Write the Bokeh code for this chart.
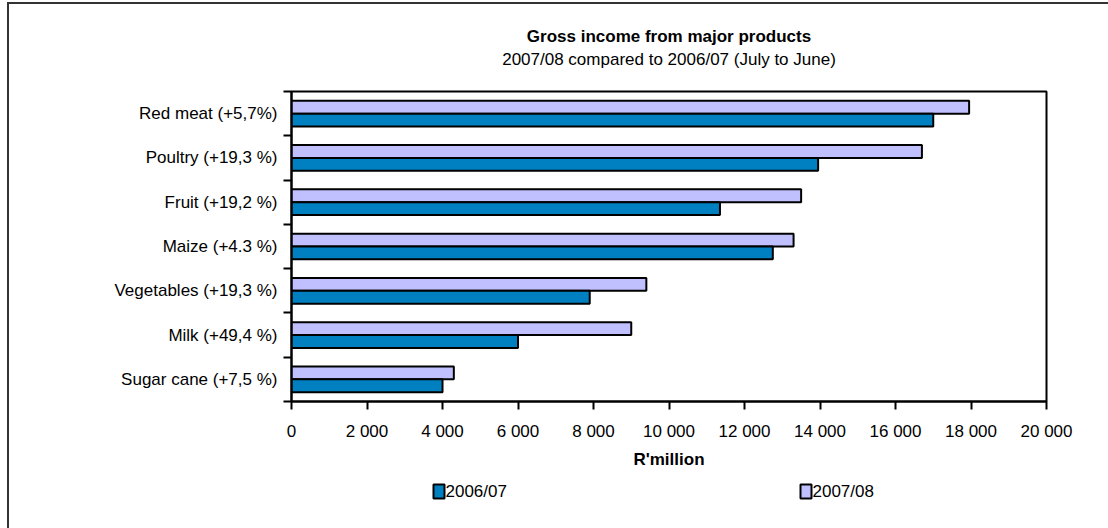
from bokeh.plotting import figure
from bokeh.layouts import column
from bokeh.core.properties import value
from bokeh.models import (ColumnDataSource, FixedTicker, Title, InlineStyleSheet, Range1d)
from bokeh.transform import dodge
from bokeh.embed import file_html
from bokeh.resources import INLINE

categories = ["Red meat (+5,7%)", "Poultry (+19,3 %)", "Fruit (+19,2 %)", "Maize (+4.3 %)",
              "Vegetables (+19,3 %)", "Milk (+49,4 %)", "Sugar cane (+7,5 %)"]
income_2006_07 = [17000, 13950, 11350, 12750, 7900, 6000, 4000]
income_2007_08 = [17950, 16700, 13500, 13300, 9400, 9000, 4300]
x_ticks = [0, 2000, 4000, 6000, 8000, 10000, 12000, 14000, 16000, 18000, 20000]
x_tick_labels = ["0", "2 000", "4 000", "6 000", "8 000", "10 000", "12 000",
                 "14 000", "16 000", "18 000", "20 000"]
series_names = ["2006/07", "2007/08"]
series_colors = ["#0080C0", "#C0C0FF"]

FONT = "Liberation Sans"
FS = "17px"
n = len(categories)
centers = [n - i - 0.5 for i in range(n)]
boundaries = list(range(n + 1))

src = ColumnDataSource(dict(y=centers, a=income_2006_07, b=income_2007_08, cat=categories))

p = figure(frame_width=755, frame_height=310, x_range=(0, 20000), y_range=(0, n),
           output_backend="svg", toolbar_location=None,
           min_border_left=291, min_border_right=62, min_border_top=91, min_border_bottom=69)
p.title.visible = False
p.xgrid.visible = False
p.ygrid.visible = False
p.outline_line_color = "black"
p.outline_line_width = 2
p.outline_line_alpha = 1
p.border_fill_alpha = 0
p.stylesheets = [InlineStyleSheet(css=(
    ":host { background: linear-gradient(#333,#333) 7px 2px / 2px 100% no-repeat, "
    "linear-gradient(#333,#333) 7px 2px / 100% 2px no-repeat, #ffffff; }"))]

h = 0.29
p.hbar(y=dodge("y", 0.145, range=p.y_range), right="b", height=h, left=0, source=src,
       fill_color=series_colors[1], line_color="black", line_width=2)
p.hbar(y=dodge("y", -0.145, range=p.y_range), right="a", height=h, left=0, source=src,
       fill_color=series_colors[0], line_color="black", line_width=2)

# x axis
xa = p.xaxis[0]
xa.ticker = FixedTicker(ticks=x_ticks, minor_ticks=[])
xa.major_label_overrides = {t: l for t, l in zip(x_ticks, x_tick_labels)}
xa.axis_line_width = 2
xa.major_tick_line_width = 2
xa.major_tick_out = 8
xa.major_tick_in = 0
xa.minor_tick_out = 0
xa.major_label_text_font = FONT
xa.major_label_text_font_size = FS
xa.major_label_text_color = "black"
xa.major_label_standoff = 12
xa.axis_label = "R'million"
xa.axis_label_text_font = FONT
xa.axis_label_text_font_size = FS
xa.axis_label_text_font_style = "bold"
xa.axis_label_text_color = "black"
xa.axis_label_standoff = 6

# y axis
ya = p.yaxis[0]
ya.ticker = FixedTicker(ticks=centers, minor_ticks=boundaries)
ya.major_label_overrides = {c: l for c, l in zip(centers, categories)}
ya.axis_line_width = 2
ya.major_tick_out = 0
ya.major_tick_in = 0
ya.minor_tick_out = 8
ya.minor_tick_in = 0
ya.minor_tick_line_width = 2
ya.minor_tick_line_color = "black"
ya.major_label_text_font = FONT
ya.major_label_text_font_size = FS
ya.major_label_text_color = "black"
ya.major_label_standoff = 6

# titles (spacer, subtitle, title — stacked outward from the frame)
p.add_layout(Title(text=" ", text_font_size="1px", standoff=20), "above")
p.add_layout(Title(text="2007/08 compared to 2006/07 (July to June)", align="center",
                   text_font=FONT, text_font_size=FS, text_font_style="normal",
                   text_color="black", standoff=0), "above")
p.add_layout(Title(text="Gross income from major products", align="center",
                   text_font=FONT, text_font_size=FS, text_font_style="bold",
                   text_color="black", standoff=4), "above")

# legend strip: a second, axis-less figure whose frame lines up with the main frame
# (page x 291..1046), so 1 data unit = 1 page pixel
LW, LH = 1108, 58
lf = figure(width=LW, height=LH, x_range=Range1d(291, 1046), y_range=Range1d(0, LH),
            x_axis_type=None, y_axis_type=None, output_backend="svg", toolbar_location=None,
            min_border=0, min_border_left=0, min_border_right=0, min_border_top=0,
            min_border_bottom=0)
lf.title.visible = False
lf.xgrid.visible = False
lf.ygrid.visible = False
lf.outline_line_color = None
lf.border_fill_alpha = 0
lf.background_fill_alpha = 0
lf.stylesheets = [InlineStyleSheet(css=(
    ":host { background: linear-gradient(#333,#333) 7px 0px / 2px 100% no-repeat, #ffffff; }"))]

leg_src = ColumnDataSource(dict(x=[438.5, 805.5], tx=[445, 812], y=[38, 38],
                                name=series_names, color=series_colors))
lf.rect(x="x", y="y", width=11, height=14, width_units="screen", height_units="screen",
        source=leg_src, fill_color="color", line_color="black", line_width=2)
lf.text(x="tx", y="y", text="name", source=leg_src, text_font=value(FONT),
        text_font_size=FS, text_color="black", text_baseline="middle", text_align="left")

layout = column(p, lf, spacing=0)
open("out.html", "w").write(file_html(layout, INLINE))
